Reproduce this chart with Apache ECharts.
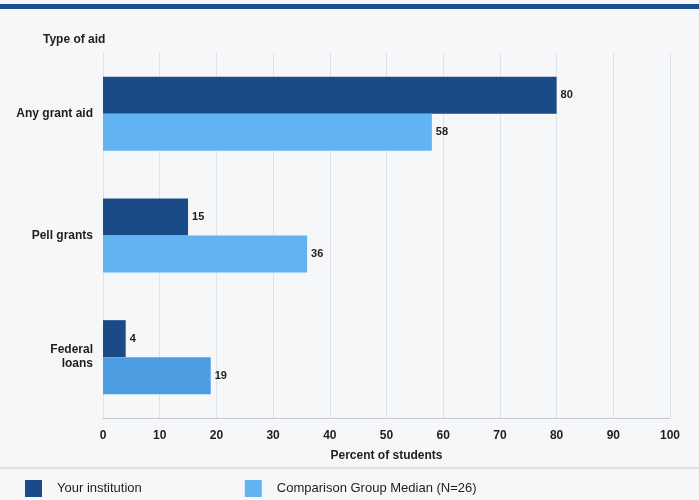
<!DOCTYPE html>
<html>
<head>
<meta charset="utf-8">
<script src="https://cdn.jsdelivr.net/npm/echarts@6/dist/echarts.min.js"></script>
<style>
  html, body { margin: 0; padding: 0; background: #f6f7f9; }
  #chart { width: 699px; height: 500px; }
</style>
</head>
<body>
<div id="chart"></div>
<script>
// Share of students receiving each type of aid
const categories = ['Any grant aid', 'Pell grants', 'Federal\nloans'];
const institutionValues = [80, 15, 4];
const comparisonValues = [58, 36, 19];
const xTicks = [0, 10, 20, 30, 40, 50, 60, 70, 80, 90, 100];

const darkBlue = '#1b4b86';
const lightBlue = '#62b3f1';
const font = 'Liberation Sans, Arial, sans-serif';

const chart = echarts.init(document.getElementById('chart'));

const valueLabel = {
  show: true,
  position: 'right',
  distance: 4,
  fontFamily: font,
  fontSize: 11,
  fontWeight: 'bold',
  color: '#1e1e1e'
};

chart.setOption({
  backgroundColor: '#f6f7f9',
  animation: false,
  title: {
    text: 'Type of aid',
    left: 38,
    top: 29,
    textStyle: { fontFamily: font, fontSize: 12, fontWeight: 'bold', color: '#1e1e1e' }
  },
  legend: {
    left: 20,
    top: 475,
    itemWidth: 17,
    itemHeight: 17,
    itemGap: 103,
    icon: 'rect',
    textStyle: { fontFamily: font, fontSize: 13, color: '#1e1e1e', padding: [0, 0, 0, 10] },
    data: ['Your institution', 'Comparison Group Median (N=26)']
  },
  graphic: [
    { type: 'rect', shape: { x: 0, y: 4, width: 699, height: 5 }, style: { fill: '#1d4f8f' } },
    { type: 'line', shape: { x1: 0, y1: 468, x2: 699, y2: 468 }, style: { stroke: '#c9cbce', lineWidth: 1 } }
  ],
  grid: { left: 103, right: 29, top: 53, height: 365 },
  xAxis: {
    type: 'value',
    min: xTicks[0],
    max: xTicks[xTicks.length - 1],
    interval: 10,
    name: 'Percent of students',
    nameLocation: 'middle',
    nameGap: 32,
    nameTextStyle: { fontFamily: font, fontSize: 12, fontWeight: 'bold', color: '#1e1e1e' },
    axisLine: { show: true, lineStyle: { color: '#c4c7cb' } },
    axisTick: { show: false },
    axisLabel: { margin: 12, fontFamily: font, fontSize: 12, fontWeight: 'bold', color: '#1e1e1e' },
    splitLine: { show: true, lineStyle: { color: '#dfe2e6' } }
  },
  yAxis: {
    type: 'category',
    inverse: true,
    data: categories,
    axisLine: { show: false },
    axisTick: { show: false },
    axisLabel: {
      margin: 10,
      fontFamily: font,
      fontSize: 12,
      fontWeight: 'bold',
      color: '#1e1e1e',
      align: 'right',
      lineHeight: 14
    }
  },
  series: [
    {
      name: 'Your institution',
      type: 'bar',
      data: institutionValues,
      barWidth: 37,
      barGap: '0%',
      itemStyle: { color: darkBlue },
      label: valueLabel
    },
    {
      name: 'Comparison Group Median (N=26)',
      type: 'bar',
      data: comparisonValues.map((v, i) => i === 2 ? { value: v, itemStyle: { color: '#4d9de3' } } : v),
      barWidth: 37,
      itemStyle: { color: lightBlue },
      label: valueLabel
    }
  ]
});
</script>
</body>
</html>
